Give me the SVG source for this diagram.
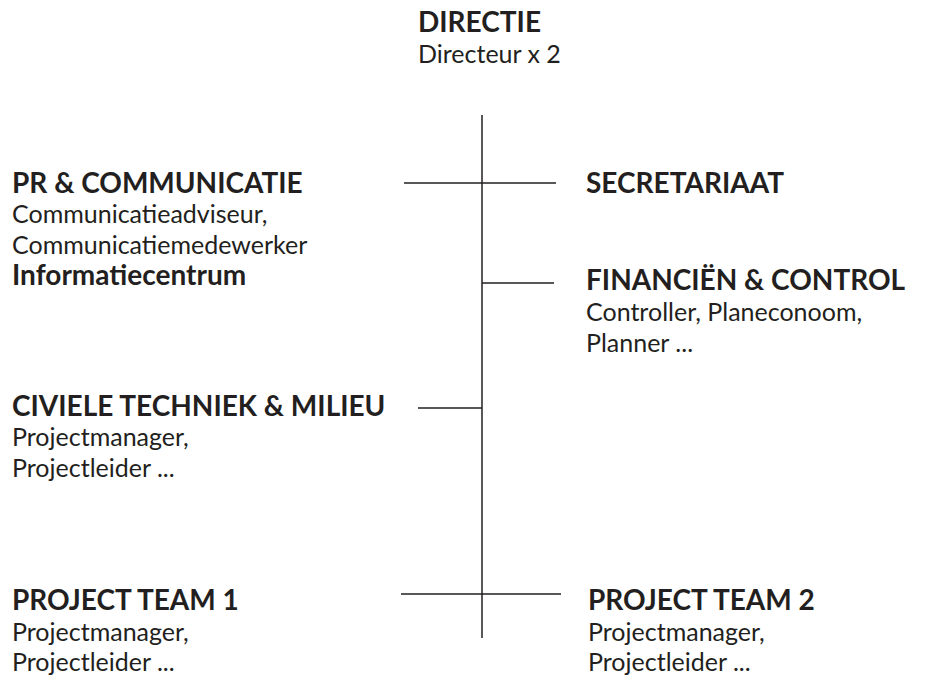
<svg xmlns="http://www.w3.org/2000/svg" width="925" height="677" viewBox="0 0 925 677">
  <style>
    .t { font-family: Lato, "Open Sans", "Liberation Sans", sans-serif; font-size: 25px; fill: #231f20; }
    .h { font-weight: bold; font-size: 28px; }
    .ln { stroke: #231f20; stroke-width: 1.5; fill: none; }
  </style>
  <rect width="925" height="677" fill="#ffffff"/>

  <!-- connectors: one trunk with side branches -->
  <g id="connectors">
    <line class="ln" x1="482" y1="115" x2="482" y2="638"/>
    <line class="ln" x1="404" y1="183" x2="556" y2="183"/>
    <line class="ln" x1="482" y1="283" x2="554" y2="283"/>
    <line class="ln" x1="418" y1="408" x2="482" y2="408"/>
    <line class="ln" x1="401" y1="594" x2="561" y2="594"/>
  </g>

  <g id="directie">
    <text class="t h" x="418" y="32">DIRECTIE</text>
    <text class="t" x="418" y="63">Directeur x 2</text>
  </g>

  <g id="pr-communicatie">
    <text class="t h" x="12" y="193">PR &amp; COMMUNICATIE</text>
    <text class="t" x="12" y="223">Communicatieadviseur,</text>
    <text class="t" x="12" y="254">Communicatiemedewerker</text>
    <text class="t h" x="12" y="285">Informatiecentrum</text>
  </g>

  <g id="secretariaat">
    <text class="t h" x="586" y="193">SECRETARIAAT</text>
  </g>

  <g id="financien-control">
    <text class="t h" x="586" y="290">FINANCIËN &amp; CONTROL</text>
    <text class="t" x="586" y="321">Controller, Planeconoom,</text>
    <text class="t" x="586" y="352">Planner ...</text>
  </g>

  <g id="civiele-techniek">
    <text class="t h" x="12" y="416">CIVIELE TECHNIEK &amp; MILIEU</text>
    <text class="t" x="12" y="446">Projectmanager,</text>
    <text class="t" x="12" y="477">Projectleider ...</text>
  </g>

  <g id="project-team-1">
    <text class="t h" x="12" y="610">PROJECT TEAM 1</text>
    <text class="t" x="12" y="641">Projectmanager,</text>
    <text class="t" x="12" y="671">Projectleider ...</text>
  </g>

  <g id="project-team-2">
    <text class="t h" x="588" y="610">PROJECT TEAM 2</text>
    <text class="t" x="588" y="641">Projectmanager,</text>
    <text class="t" x="588" y="671">Projectleider ...</text>
  </g>
</svg>
